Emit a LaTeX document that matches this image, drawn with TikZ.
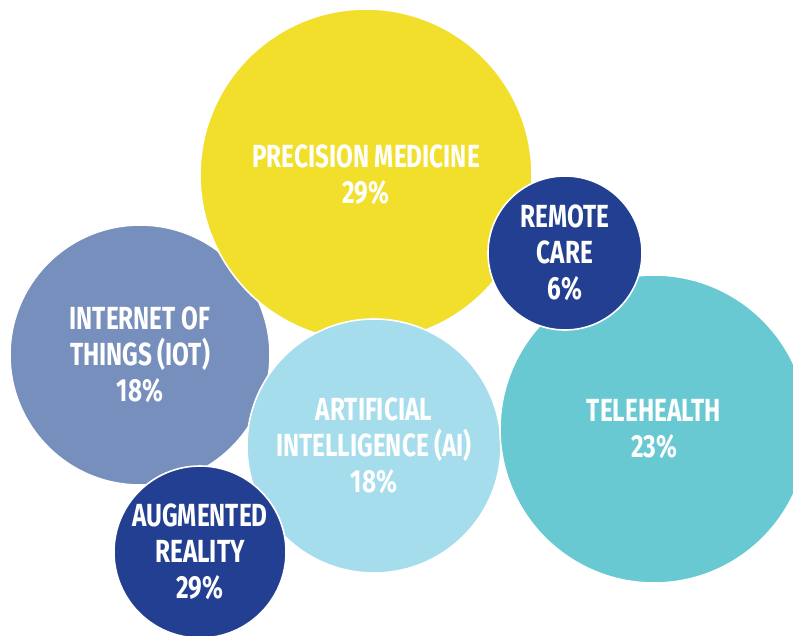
\documentclass[tikz,border=0pt]{standalone}
\usepackage{fontspec}
\newfontfamily\bubblefont{Fira Sans}[FakeStretch=0.76]
\definecolor{precisionyellow}{RGB}{242,223,44}
\definecolor{iotblue}{RGB}{119,143,188}
\definecolor{aiblue}{RGB}{165,221,237}
\definecolor{teleteal}{RGB}{104,201,210}
\definecolor{darkblue}{RGB}{35,63,146}

\tikzstyle{bubble} = [circle, draw=white, line width=1.6pt, inner sep=0pt, text=white, align=center, font=\bubblefont\bfseries\fontsize{32}{36}\selectfont]

\begin{document}
\begin{tikzpicture}[x=1pt, y=-1pt]
		\clip (0,0) rectangle (793,635);
		\fill[white] (0,0) rectangle (793,635);
		
		% back to front
		\node[bubble, fill=iotblue, minimum size=260pt] (iot) at (140,355) {INTERNET OF\\THINGS (IOT)\\18\%};
		\node[bubble, fill=precisionyellow, minimum size=332pt] (precision) at (366,175) {PRECISION MEDICINE\\29\%};
		\node[bubble, fill=aiblue, minimum size=254pt] (ai) at (374,446) {ARTIFICIAL\\INTELLIGENCE (AI)\\18\%};
		\node[bubble, fill=teleteal, minimum size=308pt] (tele) at (654,429) {TELEHEALTH\\23\%};
		\node[bubble, fill=darkblue, minimum size=172pt] (ar) at (200,552) {AUGMENTED\\REALITY\\29\%};
		\node[bubble, fill=darkblue, minimum size=154pt] (remote) at (565,253) {REMOTE\\CARE\\6\%};
		
	\end{tikzpicture}
\end{document}
